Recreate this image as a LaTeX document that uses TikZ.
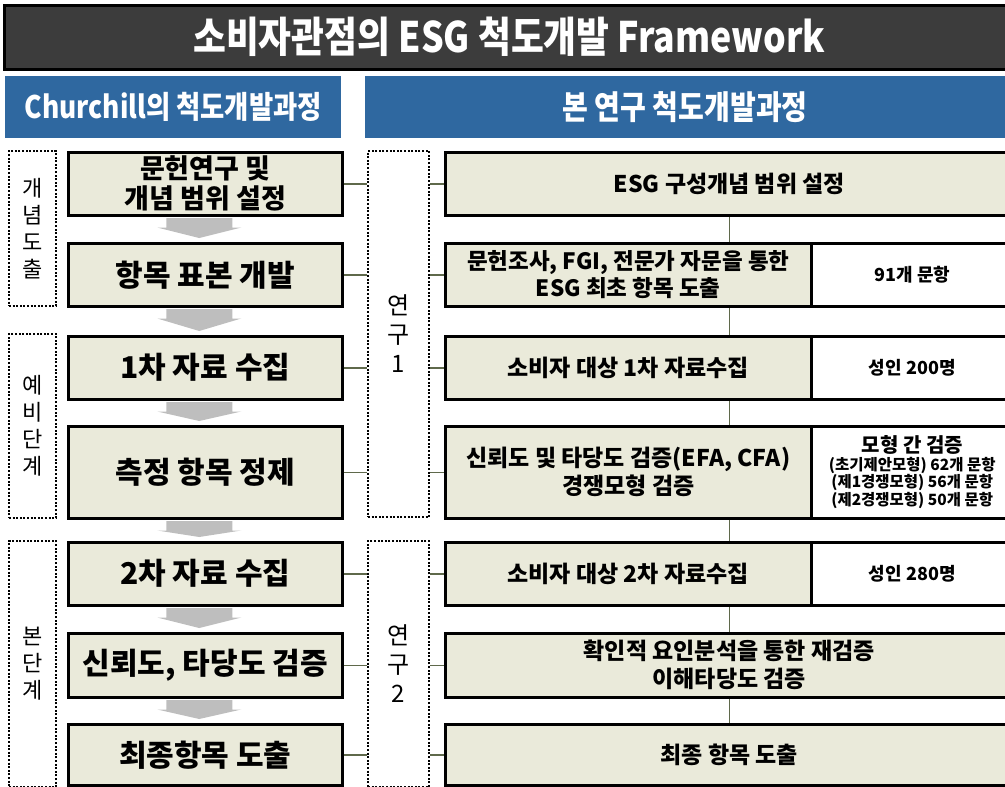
\documentclass[tikz,border=0pt]{standalone}
\usepackage{fontspec}
\usetikzlibrary{calc,backgrounds}
\newfontfamily\kr{Noto Sans CJK KR}
\newfontfamily\krc{Noto Sans CJK KR}[FakeStretch=0.85]
\definecolor{boxfill}{RGB}{234,234,218}
\definecolor{titlec}{RGB}{60,60,60}
\definecolor{bluec}{RGB}{47,104,160}
\definecolor{connc}{RGB}{95,105,75}
\definecolor{arrc}{RGB}{190,190,190}
\newcommand\grayarr[2]{%
  \fill[arrc] ($(#1.south)+(-39,1.5)$) -- ($(#1.south)+(27,1.5)$) -- ($(#1.south)+(27,11)$) --
    ($(#1.south)+(36,11)$) -- ($(#2.north)+(-6,-4)$) -- ($(#1.south)+(-48,11)$) --
    ($(#1.south)+(-39,11)$) -- cycle;}
\begin{document}
\begin{tikzpicture}[x=1pt,y=-1pt,
  base/.style={draw=black, line width=2.5pt, inner sep=0pt, anchor=north west, align=center},
  lbox/.style={base, fill=boxfill, minimum width=274pt, font=\kr\bfseries\fontsize{30}{34}\selectfont},
  rbox/.style={base, fill=boxfill, font=\kr\bfseries\fontsize{23}{28}\selectfont},
  wbox/.style={base, fill=white, minimum width=202pt, font=\kr\bfseries\fontsize{18}{22}\selectfont},
  dotbox/.style={draw=black, line width=2pt, dash pattern=on 2pt off 1.6pt, inner sep=0pt, anchor=north west, align=center},
  ldot/.style={dotbox, minimum width=47pt, font=\kr\fontsize{22}{27}\selectfont},
  mdot/.style={dotbox, minimum width=61pt, font=\kr\fontsize{24}{29}\selectfont},
  conn/.style={draw=connc, line width=1.5pt}]
\useasboundingbox (0,0) rectangle (1005,787);

% title and headers
\node[draw=black, line width=2.5pt, fill=titlec, minimum width=1010pt, minimum height=64pt, anchor=north west,
  text=white, font=\krc\bfseries\fontsize{42}{46}\selectfont] (T) at (3,4) {소비자관점의 ESG 척도개발 Framework};
\node[fill=bluec, minimum width=336pt, minimum height=62pt, anchor=north west, inner sep=0pt,
  text=white, font=\krc\bfseries\fontsize{31}{36}\selectfont] (H1) at (5,76) {Churchill의 척도개발과정};
\node[fill=bluec, minimum width=640pt, minimum height=62pt, anchor=north west, inner sep=0pt,
  text=white, font=\krc\bfseries\fontsize{33}{38}\selectfont] (H2) at (365,76) {본 연구 척도개발과정};

% left dotted groups
\node[ldot, minimum height=155pt] (D1) at (8,150) {개\\념\\도\\출};
\node[ldot, minimum height=184pt] (D2) at (8,333) {예\\비\\단\\계};
\node[ldot, minimum height=246pt] (D3) at (8,540) {본\\단\\계};

% left boxes
\node[lbox, minimum height=63pt, font=\kr\bfseries\fontsize{27}{30}\selectfont] (L1) at (67,151) {문헌연구 및\\개념 범위 설정};
\node[lbox, minimum height=63pt] (L2) at (67,242) {항목 표본 개발};
\node[lbox, minimum height=63pt] (L3) at (67,335) {1차 자료 수집};
\node[lbox, minimum height=92pt] (L4) at (67,425) {측정 항목 정제};
\node[lbox, minimum height=63pt] (L5) at (67,541) {2차 자료 수집};
\node[lbox, minimum height=64pt] (L6) at (67,632) {신뢰도, 타당도 검증};
\node[lbox, minimum height=61pt] (L7) at (67,723) {최종항목 도출};

\grayarr{L1}{L2}
\grayarr{L2}{L3}
\grayarr{L3}{L4}
\grayarr{L4}{L5}
\grayarr{L5}{L6}
\grayarr{L6}{L7}

% middle dotted groups
\node[mdot, minimum height=366pt] (M1) at (367,150) {연\\구\\1};
\node[mdot, minimum height=246pt] (M2) at (367,540) {연\\구\\2};

% right boxes
\node[rbox, minimum width=568pt, minimum height=63pt] (R1) at (444,151) {ESG 구성개념 범위 설정};
\node[rbox, minimum width=366pt, minimum height=63pt, font=\kr\bfseries\fontsize{22.5}{27}\selectfont] (R2) at (444,242) {문헌조사, FGI, 전문가 자문을 통한\\ESG 최초 항목 도출};
\node[wbox, minimum height=63pt] (W2) at (810,242) {91개 문항};
\node[rbox, minimum width=366pt, minimum height=63pt] (R3) at (444,335) {소비자 대상 1차 자료수집};
\node[wbox, minimum height=63pt] (W3) at (810,335) {성인 200명};
\node[rbox, minimum width=366pt, minimum height=92pt] (R4) at (444,425) {신뢰도 및 타당도 검증(EFA, CFA)\\경쟁모형 검증};
\node[wbox, minimum height=92pt, font=\kr\bfseries\fontsize{15.5}{17.5}\selectfont] (W4) at (810,425)
  {{\fontsize{20}{21}\selectfont 모형 간 검증}\\(초기제안모형) 62개 문항\\(제1경쟁모형) 56개 문항\\(제2경쟁모형) 50개 문항};
\node[rbox, minimum width=366pt, minimum height=63pt] (R5) at (444,541) {소비자 대상 2차 자료수집};
\node[wbox, minimum height=63pt] (W5) at (810,541) {성인 280명};
\node[rbox, minimum width=568pt, minimum height=64pt] (R6) at (444,632) {확인적 요인분석을 통한 재검증\\이해타당도 검증};
\node[rbox, minimum width=568pt, minimum height=61pt] (R7) at (444,723) {최종 항목 도출};

% vertical spine on the right
\begin{scope}[on background layer]
  \draw[conn] (R1.south) -- (R1.south |- R7.north);
\end{scope}

% horizontal connectors
\foreach \l/\r/\m in {L1/R1/M1, L2/R2/M1, L3/R3/M1, L4/R4/M1, L5/R5/M2, L6/R6/M2, L7/R7/M2}{
  \draw[conn] (\l.east) -- (\l.east -| \m.west);
  \draw[conn] (\r.west -| \m.east) -- (\r.west);
}
\end{tikzpicture}
\end{document}
